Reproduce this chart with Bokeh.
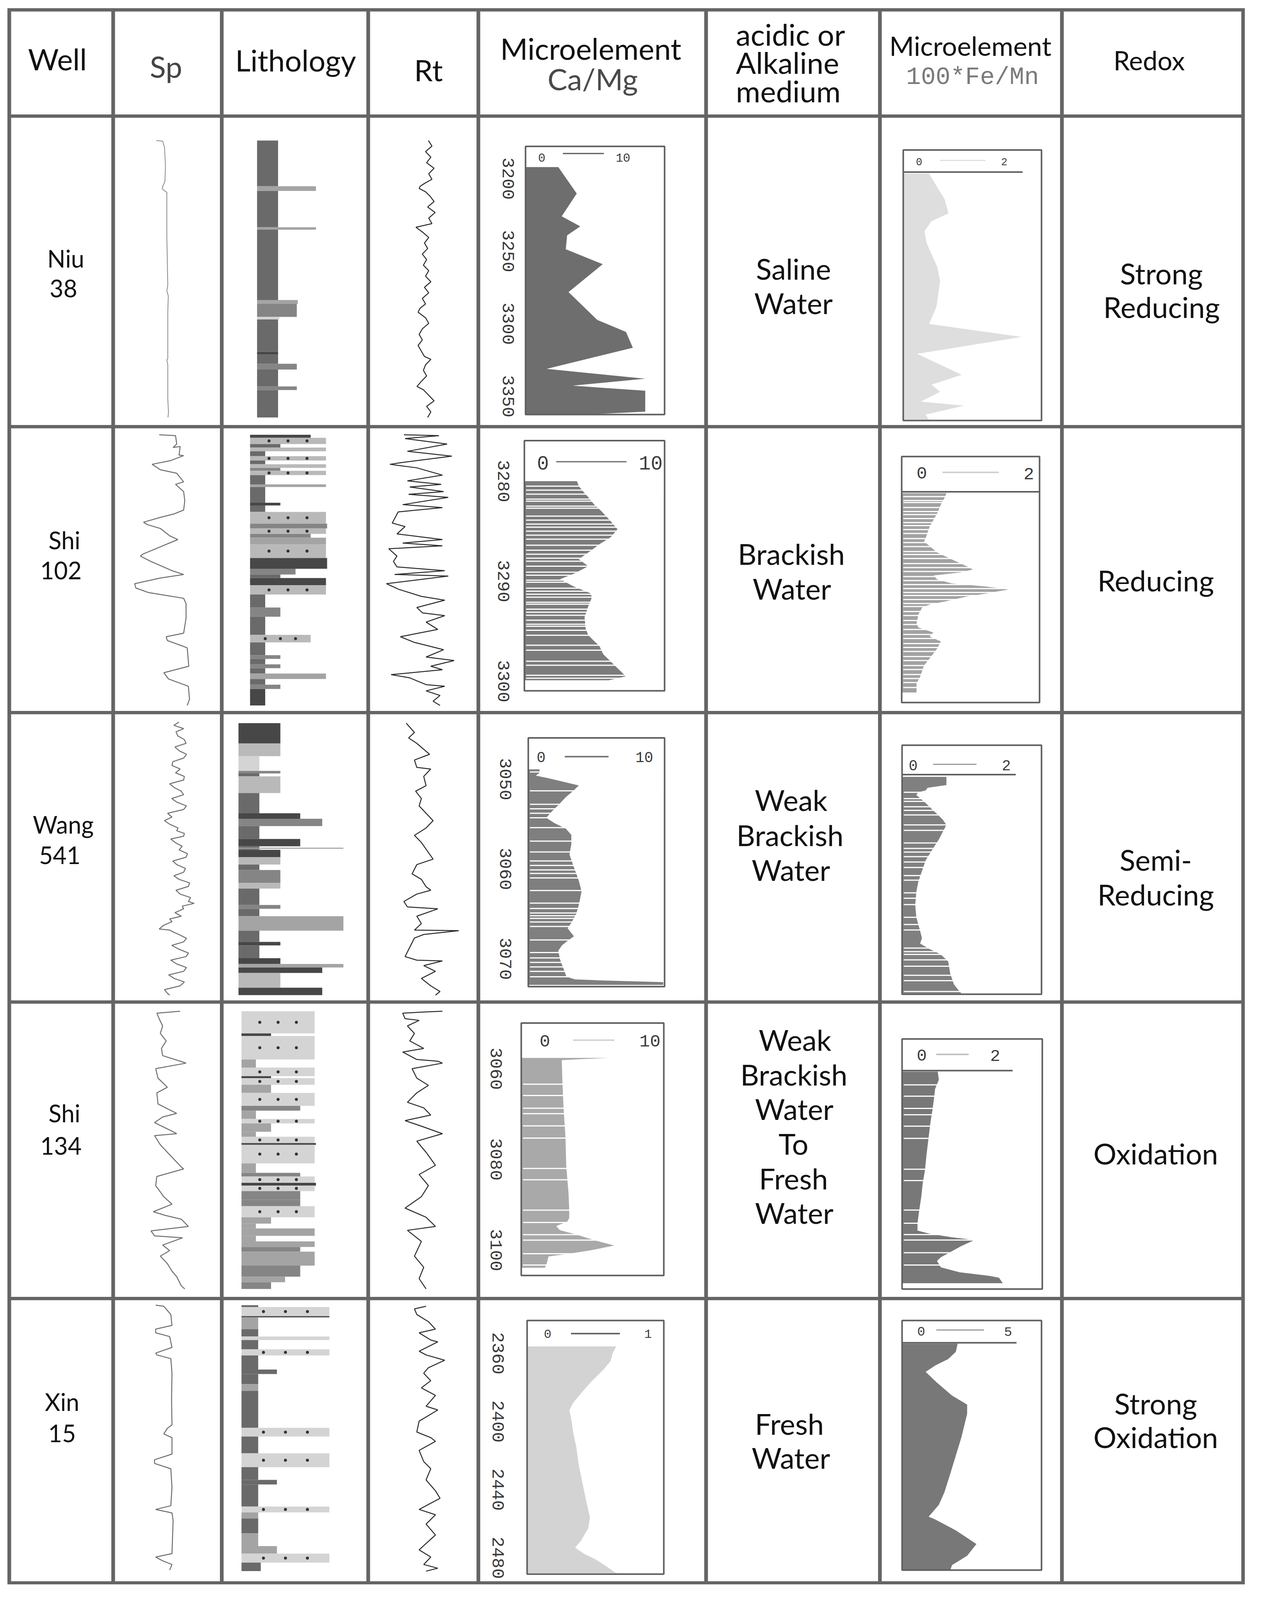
import math
from bokeh.plotting import figure
from bokeh.models import Range1d, Spacer, Row, Column
from bokeh.core.properties import value
from bokeh.embed import file_html
from bokeh.resources import INLINE

# ============================ DATA ============================
wells = ["Niu 38", "Shi 102", "Wang 541", "Shi 134", "Xin 15"]
well_line1 = ["Niu", "Shi", "Wang", "Shi", "Xin"]
well_line2 = ["38", "102", "541", "134", "15"]
medium_labels = [["Saline", "Water"], ["Brackish", "Water"], ["Weak", "Brackish", "Water"],
                 ["Weak", "Brackish", "Water", "To", "Fresh", "Water"], ["Fresh", "Water"]]
redox_labels = [["Strong", "Reducing"], ["Reducing"], ["Semi-", "Reducing"], ["Oxidation"],
                ["Strong", "Oxidation"]]

camg_ticks = [[3200, 3250, 3300, 3350], [3280, 3290, 3300], [3050, 3060, 3070],
              [3060, 3080, 3100], [2360, 2400, 2440, 2480]]
camg_scale_max = ["10", "10", "10", "10", "1"]
femn_scale_max = ["2", "2", "2", "2", "5"]

# --- Ca/Mg profiles (depth m, ratio) ---
camg1_d = [3192.1, 3210.3, 3226.0, 3232.9, 3239.1, 3248.7, 3259.0, 3278.2, 3297.4, 3305.7, 3316.6,
           3331.1, 3337.9, 3342.7, 3346.2, 3360.6, 3361.3, 3362.2]
camg1_v = [2.83, 4.42, 3.12, 4.72, 3.59, 3.47, 6.66, 3.71, 6.19, 8.67, 9.26, 1.82, 10.33, 4.06, 10.33,
           10.33, 8.51, 6.19]
camg2_d = [3280.0, 3280.5, 3281.2, 3281.6, 3282.3, 3283.0, 3283.8, 3284.8, 3285.6, 3286.3, 3287.0,
           3287.8, 3288.5, 3289.2, 3289.8, 3290.5, 3291.2, 3291.6, 3292.5, 3293.6, 3294.7, 3295.4,
           3296.5, 3297.3, 3298.4, 3299.5, 3299.9]
camg2_v = [4.50, 4.66, 5.15, 5.47, 5.95, 6.59, 7.23, 7.97, 7.39, 6.43, 5.63, 4.66, 5.47, 4.34, 3.06,
           4.18, 5.63, 5.79, 5.47, 5.15, 5.24, 5.47, 6.43, 6.75, 7.71, 8.68, 7.23]
camg2_gaps = [3280.5, 3280.9, 3281.3, 3281.8, 3282.0, 3282.5, 3282.7, 3283.5, 3283.9, 3284.3, 3284.6,
              3285.0, 3285.4, 3285.8, 3286.4, 3286.9, 3287.3, 3287.7, 3288.0, 3288.5, 3289.1, 3289.4,
              3289.9, 3290.1, 3290.7, 3291.0, 3291.3, 3291.6, 3292.1, 3292.3, 3292.8, 3293.1, 3293.4,
              3293.9, 3294.3, 3294.5, 3294.9, 3295.4, 3296.4, 3296.9, 3298.0, 3298.4, 3299.4, 3299.7]
camg3_d = [3048.9, 3049.3, 3049.6, 3049.9, 3050.7, 3051.3, 3052.0, 3052.9, 3053.5, 3054.3, 3054.9,
           3055.5, 3056.2, 3057.2, 3058.4, 3059.6, 3061.3, 3062.5, 3064.0, 3065.0, 3066.0, 3066.6,
           3067.5, 3068.0, 3068.5, 3069.1, 3070.1, 3071.2, 3072.0, 3072.3, 3072.4, 3072.5, 3072.6, 3072.9]
camg3_v = [0.99, 0.99, 0.66, 1.81, 4.45, 3.96, 3.30, 2.64, 2.14, 1.58, 2.31, 3.30, 3.79, 3.79, 3.63,
           3.96, 4.45, 4.69, 4.45, 4.22, 3.79, 3.46, 4.02, 3.46, 2.97, 2.64, 2.80, 3.13, 3.36, 4.12,
           6.27, 9.08, 11.88, 11.88]
camg3_gaps = [3049.2, 3051.3, 3052.8, 3053.3, 3053.8, 3054.3, 3055.4, 3056.9, 3058.1, 3059.1, 3059.6,
              3060.1, 3060.5, 3061.0, 3062.4, 3063.8, 3064.4, 3064.9, 3065.2, 3065.5, 3065.9, 3066.4,
              3067.9, 3069.3, 3069.9, 3070.4, 3070.9, 3071.4, 3072.0]
camg4_d = [3057.6, 3057.9, 3058.1, 3063.2, 3069.1, 3074.9, 3081.6, 3087.4, 3091.2, 3092.9, 3093.7,
           3094.7, 3095.6, 3096.6, 3097.9, 3099.0, 3100.0, 3100.8, 3101.4, 3102.9, 3103.9]
camg4_v = [7.36, 4.83, 3.41, 3.47, 3.57, 3.72, 3.79, 3.98, 4.04, 4.04, 3.88, 2.94, 3.25, 4.67, 6.25,
           7.83, 5.94, 4.04, 2.30, 2.15, 1.99]
camg4_gaps = [3063.4, 3065.9, 3068.7, 3069.9, 3072.6, 3075.3, 3082.0, 3084.5, 3091.2, 3093.9, 3096.6,
              3097.8, 3100.8, 3103.3]
camg5_d = [2355.9, 2360.2, 2364.5, 2369.8, 2376.2, 2383.7, 2389.1, 2393.3, 2398.7, 2406.2, 2414.7,
           2425.4, 2436.1, 2446.8, 2456.4, 2462.8, 2470.3, 2474.0, 2477.8, 2481.0, 2485.2, 2488.4, 2489.0]
camg5_v = [0.782, 0.749, 0.733, 0.667, 0.569, 0.470, 0.404, 0.371, 0.388, 0.404, 0.431, 0.453, 0.486,
           0.519, 0.552, 0.536, 0.470, 0.421, 0.503, 0.602, 0.700, 0.766, 0.799]

# --- 100*Fe/Mn profiles (depth m, ratio) ---
femn1_d = [3192.0, 3209.9, 3219.5, 3225.0, 3231.9, 3240.2, 3256.7, 3266.3, 3284.2, 3295.9, 3304.9,
           3316.6, 3331.1, 3337.9, 3342.8, 3349.6, 3352.4, 3358.6, 3362.0]
femn1_v = [0.56, 0.90, 0.98, 0.61, 0.46, 0.51, 0.74, 0.80, 0.72, 0.56, 2.57, 0.30, 1.27, 0.61, 0.80,
           0.38, 1.32, 0.48, 0.56]
femn2_d = [3280.06, 3280.5, 3281.2, 3282.1, 3283.4, 3284.5, 3284.9, 3285.2, 3286.0, 3286.7, 3287.4,
           3287.7, 3288.0, 3288.3, 3288.7, 3289.1, 3289.4, 3289.7, 3290.1, 3290.4, 3290.9, 3291.2,
           3291.5, 3292.2, 3293.1, 3293.5, 3294.0, 3294.4, 3294.9, 3295.6, 3296.6, 3297.3, 3298.4,
           3299.1, 3300.0]
femn2_v = [0.976, 0.935, 0.853, 0.772, 0.608, 0.527, 0.486, 0.567, 0.772, 1.098, 1.425, 1.548, 1.261,
           0.690, 0.772, 1.098, 1.833, 2.323, 1.833, 1.425, 0.935, 0.608, 0.445, 0.364, 0.323, 0.364,
           0.690, 0.608, 0.853, 0.772, 0.608, 0.486, 0.404, 0.323, 0.323]
femn2_gaps = [3280.4, 3280.8, 3281.0, 3281.5, 3281.9, 3282.2, 3282.6, 3283.0, 3283.3, 3283.7, 3284.1,
              3284.6, 3285.0, 3285.4, 3285.9, 3286.2, 3286.6, 3287.1, 3287.5, 3287.9, 3288.4, 3288.8,
              3289.2, 3289.6, 3290.0, 3290.3, 3290.7, 3291.1, 3291.4, 3291.9, 3292.3, 3292.8, 3293.2,
              3293.7, 3294.2, 3294.6, 3295.1, 3295.5, 3295.9, 3296.4, 3296.8, 3297.3, 3297.7, 3298.2,
              3298.6, 3299.0, 3299.5]
femn3_d = [3049.0, 3049.9, 3050.2, 3050.5, 3050.7, 3051.0, 3051.9, 3052.9, 3053.7, 3054.3, 3055.1,
           3055.9, 3057.2, 3058.2, 3059.4, 3060.6, 3061.7, 3063.1, 3064.5, 3066.0, 3066.8, 3067.4,
           3068.0, 3068.6, 3069.4, 3070.7, 3071.9, 3072.7, 3072.9]
femn3_v = [0.954, 0.954, 0.550, 0.509, 0.348, 0.307, 0.509, 0.711, 0.873, 0.954, 0.873, 0.792, 0.630,
           0.509, 0.428, 0.348, 0.307, 0.283, 0.307, 0.388, 0.428, 0.388, 0.590, 0.832, 0.994, 1.035,
           1.115, 1.237, 1.277]
femn3_gaps = [3050.7, 3051.4, 3051.7, 3052.3, 3052.7, 3053.2, 3054.3, 3054.9, 3056.3, 3056.9, 3057.3,
              3057.8, 3058.4, 3059.0, 3059.9, 3060.4, 3061.8, 3062.4, 3063.1, 3064.5, 3065.3, 3065.9,
              3067.9, 3068.3, 3068.6, 3069.2, 3069.9, 3070.9, 3071.5, 3072.7]
femn4_d = [3057.7, 3059.5, 3061.5, 3063.6, 3066.1, 3068.6, 3071.9, 3076.1, 3079.4, 3082.3, 3085.3,
           3088.6, 3091.1, 3092.7, 3093.4, 3094.2, 3094.8, 3096.1, 3097.7, 3098.6, 3099.4, 3100.8,
           3101.9, 3102.7, 3103.1, 3104.3]
femn4_v = [0.763, 0.787, 0.707, 0.683, 0.651, 0.611, 0.571, 0.522, 0.490, 0.442, 0.410, 0.362, 0.330,
           0.330, 0.587, 1.069, 1.551, 1.269, 0.988, 0.828, 0.747, 0.828, 1.229, 1.873, 2.074, 2.154]
femn4_gaps = [3060.6, 3063.1, 3065.8, 3067.2, 3069.7, 3072.4, 3079.2, 3081.7, 3088.2, 3091.1, 3093.6,
              3094.8, 3097.6, 3100.3]
femn5_d = [2356.3, 2361.1, 2365.3, 2369.1, 2372.8, 2379.2, 2386.7, 2392.0, 2397.4, 2411.2, 2421.9,
           2432.6, 2443.3, 2450.7, 2457.7, 2459.3, 2465.7, 2473.7, 2480.6, 2486.0, 2489.0]
femn5_v = [2.99, 2.89, 2.48, 1.78, 1.27, 1.88, 2.69, 3.50, 3.50, 3.19, 2.89, 2.59, 2.28, 1.98, 1.43,
           1.78, 2.89, 4.00, 3.50, 2.69, 2.59]

# --- SP logs (relative depth 0-100 along logged interval, reading 0-100 of track) ---
sp1_d = [0, 0.2, 2.5, 9.0, 14.7, 17.1, 17.8, 18.7, 34.2, 52.2, 54.3, 56.1, 62.2, 78.8, 79.1, 80.9,
         93.2, 98.2, 100]
sp1_v = [39.3, 45.3, 47.1, 48.0, 47.5, 44.9, 45.8, 49.3, 49.3, 50.2, 49.3, 50.7, 50.2, 50.2, 49.3,
         50.2, 50.2, 50.9, 50.4]
sp2_d = [0, 0.3, 3.4, 4.7, 4.3, 7.5, 7.7, 9.5, 10.9, 12.9, 14.2, 17.4, 18.3, 21.0, 24.4, 27.8, 29.2,
         30.5, 32.3, 33.2, 34.6, 37.3, 38.7, 41.4, 44.1, 44.8, 46.8, 50.2, 51.6, 52.9, 55.0, 56.6, 58.3,
         60.4, 62.4, 67.8, 73.3, 74.6, 76.0, 78.7, 85.5, 87.9, 90.2, 92.9, 97.7, 100]
sp2_v = [42.0, 57.6, 58.7, 55.3, 62.0, 60.9, 65.3, 53.1, 35.3, 43.1, 58.7, 65.3, 57.6, 65.3, 66.4,
         65.3, 56.4, 43.1, 27.1, 30.9, 43.1, 52.0, 59.8, 43.1, 26.4, 24.2, 34.2, 54.2, 65.3, 43.1,
         18.7, 19.8, 32.0, 65.3, 67.6, 67.6, 65.3, 48.7, 49.8, 68.7, 70.2, 46.4, 50.9, 69.8, 70.9, 68.7]
sp3_d = [0, 1.2, 2.4, 3.6, 5.1, 6.4, 7.8, 9.1, 10.5, 11.8, 13.2, 14.5, 15.9, 17.2, 18.6, 19.9, 21.2,
         22.6, 24.0, 25.3, 26.6, 28.0, 29.3, 30.7, 32.0, 33.4, 34.8, 36.1, 37.4, 38.8, 39.8, 40.8, 41.8,
         42.8, 44.2, 45.5, 46.8, 48.2, 49.5, 50.9, 52.2, 53.6, 55.0, 56.3, 57.6, 58.9, 60.2, 61.6, 63.0,
         64.3, 65.7, 66.4, 67.4, 68.4, 69.8, 71.1, 72.1, 73.1, 74.5, 75.8, 76.2, 77.0, 77.8, 79.2, 80.5,
         81.8, 83.2, 84.6, 85.9, 87.2, 88.6, 89.9, 91.3, 92.6, 93.9, 95.2, 96.6, 98.0, 99.3, 100]
sp3_v = [60.9, 56, 65.3, 58, 59.8, 66, 67.6, 57, 60.9, 68, 65.3, 55, 54.2, 62, 57.6, 66, 65.3, 52,
         56.4, 63, 65.3, 54, 58.7, 68, 65.3, 50, 54.2, 47, 52.0, 60, 58.7, 66, 65.3, 53, 57.6, 64, 60.9,
         69, 67.6, 55, 58.7, 67, 65.3, 56, 60.9, 71, 69.8, 58, 62.0, 72, 69.8, 75.3, 64, 65.3, 57, 63.1,
         52, 54.2, 46, 42.0, 52.0, 56, 60.9, 68, 65.3, 54, 60.9, 70, 67.6, 53, 58.7, 68, 65.3, 51, 56.4,
         66, 62.0, 47, 49.8, 52.0]
sp4_d = [0, 0.7, 2.7, 5.3, 8.0, 10.7, 13.4, 16.0, 18.4, 18.7, 20.7, 24.1, 27.4, 29.4, 33.4, 36.8,
         38.1, 40.1, 42.8, 44.1, 44.8, 48.1, 50.8, 56.1, 56.8, 59.5, 62.8, 66.8, 69.5, 72.2, 73.5, 74.9,
         77.5, 79.1, 80.9, 81.6, 84.2, 86.2, 88.2, 90.9, 93.6, 95.6, 98.9, 100]
sp4_v = [62.0, 39.8, 42.0, 45.3, 43.1, 48.7, 44.2, 45.3, 65.3, 67.6, 38.7, 40.9, 49.8, 39.8, 40.9,
         58.7, 45.3, 37.6, 52.0, 58.7, 37.6, 43.1, 49.8, 63.1, 65.3, 39.8, 38.7, 46.4, 54.2, 36.4, 47.6,
         63.1, 69.8, 34.2, 37.6, 64.2, 45.3, 52.0, 43.1, 49.8, 54.2, 58.7, 63.1, 66.4]
sp5_d = [0, 0.4, 3.5, 7.6, 9.0, 10.4, 11.8, 15.9, 18.0, 18.7, 20.1, 25.6, 35.3, 45.0, 46.3, 48.4,
         49.8, 56.0, 58.1, 59.5, 61.5, 68.5, 75.4, 76.8, 78.1, 80.9, 93.4, 94.7, 96.1, 97.5, 99.6]
sp5_v = [38.7, 46.4, 53.1, 54.2, 38.7, 38.7, 52.0, 54.2, 38.7, 39.8, 53.1, 54.2, 53.8, 54.2, 49.8,
         46.4, 54.2, 54.2, 37.6, 37.6, 53.1, 54.2, 53.1, 38.7, 54.2, 55.3, 54.2, 38.7, 45.3, 54.2, 52.0]

# --- Rt logs (relative depth 0-100, reading 0-100 of track) ---
rt1_d = [0, 2, 4, 6, 8, 10, 12, 14, 15.5, 16.5, 17.3, 18.5, 20, 22, 24, 26, 28, 30, 31.3, 33, 35, 37,
         39, 41, 43, 45, 47, 49, 51, 53, 55, 57, 59, 60.5, 62, 64, 66, 68, 70, 72, 74, 76, 78, 79, 81,
         83, 85, 87, 88.8, 90, 92, 94, 96, 98, 100]
rt1_v = [54.7, 58, 52, 57, 53, 60, 55, 58, 51, 47, 46, 52, 56, 60, 54, 61, 55, 58, 43, 49, 55, 51,
         54, 49, 53, 50, 55, 52, 57, 51, 55, 49, 52, 47, 45, 52, 55, 49, 46, 49, 45, 48, 51, 57, 52,
         50, 53, 48, 44, 50, 55, 60, 53, 57, 54]
rt2_d = [0, 0.3, 1.4, 3.4, 6.1, 7.9, 10.2, 10.9, 12.2, 14.9, 17.0, 18.3, 19.3, 21.0, 22.0, 23.1, 25.8,
         26.9, 28.5, 32.6, 33.9, 36.6, 38.7, 40.0, 41.0, 42.1, 44.8, 46.8, 48.8, 50.2, 51.6, 52.2, 55.0,
         57.0, 59.7, 61.1, 63.8, 65.8, 66.8, 69.2, 71.9, 74.6, 76.7, 79.4, 82.1, 83.4, 85.5, 86.8, 88.6,
         89.8, 92.3, 92.9, 94.6, 96.3, 98.4, 100]
rt2_v = [31.7, 64.6, 32.8, 72.2, 35.0, 76.6, 30.6, 18.6, 43.8, 67.8, 35.0, 66.7, 37.2, 68.9, 36.1,
         73.3, 30.6, 67.8, 26.3, 20.8, 32.8, 25.2, 67.8, 30.6, 67.8, 17.5, 25.2, 21.9, 25.2, 70.0, 23.0,
         73.3, 15.3, 26.3, 48.1, 70.0, 43.8, 49.2, 70.0, 52.5, 63.5, 28.4, 41.6, 68.9, 52.5, 78.8, 56.9,
         67.8, 19.7, 37.2, 52.5, 70.0, 52.5, 65.6, 59.1, 65.6]
rt3_d = [0.4, 3.8, 5.8, 7.8, 11.8, 13.9, 16.6, 17.2, 19.9, 23.3, 25.3, 28.0, 30.7, 36.1, 38.8, 41.5,
         44.1, 50.2, 52.2, 55.6, 57.6, 60.3, 61.6, 63.0, 65.7, 67.7, 68.4, 71.1, 73.8, 76.2, 76.4, 77.8,
         79.1, 85.9, 87.2, 87.5, 89.2, 91.3, 93.9, 96.6, 98.7, 100]
rt3_v = [33.9, 41.6, 36.1, 43.8, 55.8, 41.6, 43.8, 56.9, 50.3, 52.5, 42.7, 48.1, 46.0, 59.1, 52.5,
         41.6, 48.1, 59.1, 43.8, 39.4, 48.1, 52.5, 56.9, 43.8, 31.7, 35.0, 63.5, 43.8, 48.1, 41.6, 83.2,
         50.3, 41.6, 32.8, 43.8, 67.8, 50.3, 61.3, 48.1, 56.9, 65.6, 61.3]
rt4_d = [0, 0.3, 0.7, 2.7, 3.3, 5.3, 8.0, 10.7, 13.4, 14.7, 17.4, 18.0, 18.7, 20.7, 24.1, 26.7, 29.4,
         32.8, 34.8, 37.4, 39.4, 41.4, 44.1, 46.8, 50.8, 55.5, 58.8, 62.8, 66.8, 70.9, 74.2, 77.5, 78.9,
         82.9, 88.2, 92.2, 96.3, 100]
rt4_v = [67.8, 50.3, 30.6, 32.8, 46.0, 35.0, 41.6, 37.2, 50.3, 30.6, 43.8, 63.5, 67.8, 39.4, 43.8,
         54.7, 43.8, 35.0, 50.3, 56.9, 32.8, 48.1, 67.8, 43.8, 52.5, 61.3, 46.0, 54.7, 48.1, 32.8, 52.5,
         61.3, 35.0, 48.1, 41.6, 50.3, 46.0, 52.5]
rt5_d = [0.4, 1.4, 3.5, 6.2, 9.0, 10.4, 13.1, 13.8, 17.3, 18.7, 20.7, 23.5, 25.6, 28.4, 31.1, 33.9,
         38.0, 39.4, 43.6, 47.7, 49.8, 51.2, 54.6, 58.8, 61.5, 65.7, 69.8, 72.6, 76.8, 78.8, 82.3, 86.4,
         92.0, 94.7, 97.5, 98.9, 100]
rt5_v = [52.5, 41.6, 43.8, 54.7, 61.3, 46.0, 56.9, 63.5, 46.0, 52.5, 70.0, 54.7, 50.3, 56.9, 48.1,
         61.3, 52.5, 63.5, 46.0, 43.8, 56.9, 61.3, 46.0, 50.3, 56.9, 52.5, 61.3, 65.6, 46.0, 61.3, 52.5,
         61.3, 46.0, 56.9, 50.3, 63.5, 52.5]

# --- Lithology beds (relative depth top/base, grain-size index 0-100, lithology class) ---
lith1_top = [0, 16.5, 18.2, 31.3, 32.2, 57.6, 59.0, 63.7, 64.6, 76.3, 77.3, 80.6, 82.7, 88.8, 90.1]
lith1_bot = [16.5, 18.2, 31.3, 32.2, 57.6, 59.0, 63.7, 64.6, 76.3, 77.3, 80.6, 82.7, 88.8, 90.1, 100]
lith1_grain = [38.1, 64.6, 38.1, 64.6, 38.1, 51.9, 51.2, 39.0, 38.1, 38.1, 38.1, 51.2, 38.1, 51.2, 38.1]
lith1_kind = ["mud", "silt", "mud", "silt", "mud", "silt", "grey", "pale", "mud", "dark", "mud", "grey",
              "mud", "grey", "mud"]
lith2_top = [0.0, 1.1, 3.4, 4.7, 6.1, 7.9, 9.5, 10.9, 12.2, 13.3, 14.9, 18.3, 19.3, 25.1, 26.1, 28.5,
             32.8, 34.6, 36.6, 38.0, 40.4, 45.5, 49.5, 51.6, 52.9, 55.6, 59.0, 63.8, 67.2, 73.9, 76.7,
             81.4, 82.8, 84.8, 86.2, 88.2, 90.2, 92.3, 93.9]
lith2_bot = [1.1, 3.4, 4.7, 6.1, 7.9, 9.5, 10.9, 12.2, 13.3, 14.9, 18.3, 19.3, 25.1, 26.1, 28.5, 32.8,
             34.6, 36.6, 38.0, 40.4, 45.5, 49.5, 51.6, 52.9, 55.6, 59.0, 63.8, 67.2, 73.9, 76.7, 81.4,
             82.8, 84.8, 86.2, 88.2, 90.2, 92.3, 93.9, 100.0]
lith2_grain = [60.9, 71.6, 39.7, 71.6, 29.1, 71.6, 29.1, 71.6, 39.7, 71.6, 29.1, 71.6, 29.1, 39.7, 29.1,
               71.6, 72.4, 71.6, 60.9, 71.6, 71.6, 72.4, 50.3, 39.7, 71.6, 71.6, 29.1, 39.7, 29.1, 60.9,
               29.1, 39.7, 29.1, 39.7, 29.1, 71.6, 29.1, 39.7, 29.1]
lith2_kind = ["dark", "sand", "mud", "sand", "mud", "sand", "mud", "sand", "grey", "sand", "mud", "silt",
              "mud", "dark", "mud", "sand", "grey", "sand", "grey", "silt", "sand", "dark", "grey", "mud",
              "dark", "sand", "mud", "grey", "mud", "sand", "mud", "grey", "mud", "grey", "mud", "silt",
              "mud", "grey", "dark"]
lith3_top = [0.4, 7.8, 12.5, 17.9, 18.8, 19.9, 26.0, 33.4, 35.4, 38.1, 42.8, 45.5, 46.0, 46.8, 49.5,
             52.2, 54.2, 58.9, 61.0, 67.0, 68.4, 71.1, 76.4, 80.5, 81.8, 86.5, 88.6, 89.9, 91.9, 97.3]
lith3_bot = [7.8, 12.5, 17.9, 18.8, 19.9, 26.0, 33.4, 35.4, 38.1, 42.8, 45.5, 46.8, 46.4, 49.5, 52.2,
             54.2, 58.9, 61.0, 67.0, 68.4, 71.1, 76.4, 80.5, 81.8, 86.5, 88.6, 89.9, 91.9, 97.3, 100.0]
lith3_grain = [39.7, 39.7, 25.0, 39.7, 25.0, 39.7, 25.0, 53.6, 69.0, 25.0, 53.6, 25.0, 83.8, 39.7, 39.7,
               25.0, 39.7, 39.7, 25.0, 39.7, 25.0, 83.8, 25.0, 39.7, 25.0, 39.7, 83.8, 69.0, 39.7, 69.0]
lith3_kind = ["dark", "sand", "pale", "grey", "mud", "sand", "mud", "dark", "grey", "mud", "dark", "mud",
              "silt", "dark", "sand", "mud", "grey", "sand", "mud", "grey", "mud", "silt", "mud", "dark",
              "mud", "dark", "silt", "dark", "sand", "dark"]
lith4_top = [0.0, 8.0, 8.9, 17.4, 20.3, 23.4, 24.1, 26.5, 29.4, 34.1, 35.8, 38.8, 40.4, 43.4, 45.2,
             47.5, 48.1, 54.8, 58.2, 59.5, 61.8, 62.8, 64.8, 67.9, 70.2, 74.2, 76.5, 78.2, 80.9, 82.9,
             84.9, 86.6, 91.6, 95.6, 97.6]
lith4_bot = [8.0, 8.9, 17.4, 20.3, 23.4, 24.1, 26.5, 29.4, 34.1, 35.8, 38.8, 40.4, 43.4, 45.2, 47.5,
             48.1, 54.8, 58.2, 59.5, 61.8, 62.8, 64.8, 67.9, 70.2, 74.2, 76.5, 78.2, 80.9, 82.9, 84.9,
             86.6, 91.6, 95.6, 97.6, 100.0]
lith4_grain = [63.7, 33.2, 63.7, 22.6, 63.7, 33.2, 63.7, 33.2, 63.7, 53.6, 22.6, 63.7, 33.2, 22.6, 63.7,
               64.6, 63.7, 22.6, 53.6, 63.7, 64.6, 63.7, 53.6, 53.6, 63.7, 33.2, 22.6, 63.7, 22.6, 63.7,
               53.6, 63.7, 53.6, 43.0, 33.2]
lith4_kind = ["pale", "dark", "pale", "silt", "pale", "dark", "pale", "silt", "pale", "grey", "silt",
              "pale", "silt", "silt", "pale", "dark", "pale", "silt", "grey", "pale", "dark", "pale",
              "grey", "grey", "pale", "silt", "silt", "silt", "silt", "silt", "grey", "silt", "grey",
              "silt", "grey"]
lith5_top = [0.0, 0.7, 4.1, 4.6, 9.0, 11.8, 13.1, 16.6, 18.9, 24.2, 25.9, 29.7, 32.2, 46.1, 49.4, 55.7,
             60.9, 65.7, 67.4, 75.7, 77.9, 80.2, 85.8, 90.6, 93.4, 96.8]
lith5_bot = [0.7, 4.1, 4.6, 9.0, 11.8, 13.1, 16.6, 18.9, 24.2, 25.9, 29.7, 32.2, 46.1, 49.4, 55.7, 60.9,
             65.7, 67.4, 75.7, 77.9, 80.2, 85.8, 90.6, 93.4, 96.8, 100.0]
lith5_grain = [24.2, 74.0, 74.0, 24.2, 24.2, 74.0, 24.2, 74.0, 24.2, 37.3, 24.2, 24.2, 24.2, 74.0, 24.2,
               74.0, 24.2, 37.3, 24.2, 74.0, 24.2, 24.2, 24.2, 37.3, 74.0, 26.0]
lith5_kind = ["mud", "pale", "dark", "silt", "mud", "pale", "mud", "pale", "mud", "mud", "mud", "silt",
              "mud", "pale", "mud", "pale", "mud", "mud", "mud", "pale", "silt", "mud", "silt", "silt",
              "pale", "mud"]

# ============================ LAYOUT / STYLE ============================
# cell geometry in reference pixels; the whole table is shrunk vertically by SY so it fits the window
COL_W = [257, 269, 366, 273, 574, 436, 457, 455]
ROW_H = [310, 925, 851, 861, 882, 846]
SY = 0.851          # vertical scale of the page
FS = 0.9            # font scale
GAP_X = 9
GAP_Y = 8
GRID_COLOR = "#656565"
BOX_COLOR = "#5e5e5e"
TEXT_FONT = "Lato"
MONO_FONT = "Liberation Mono"

LITH_COLORS = {"mud": "#6a6a6a", "grey": "#858585", "silt": "#a4a4a4", "sand": "#b9b9b9",
               "pale": "#d4d4d4", "dark": "#474747"}
TRACK_SPAN = [(68.5, 901.7), (19.5, 834.0), (23.5, 844.5), (22.5, 857.5), (15.0, 815.0)]
LITH_LEFT = [23.4, 18.5, 10.4, 12.5, 12.5]

CAMG_FILL = ["#6e6e6e", "#7c7c7c", "#7f7f7f", "#a9a9a9", "#d3d3d3"]
FEMN_FILL = ["#dedede", "#a2a2a2", "#808080", "#787878", "#787878"]

CAMG_LAYOUT = [
    dict(box=(116, 86, 472, 893), depth=(3177.8, 3362.6), xmax=12, lab_x=71.5,
         zero=(157.5, 119.5), top=(365.5, 119.5), bar=(211.5, 316.5, 107.5), fs=34, bc="#555555", bw=3),
    dict(box=(113, 37, 472, 790), depth=(3275.95, 3300.96), xmax=12, lab_x=60.0,
         zero=(160.5, 104.5), top=(436.5, 104.5), bar=(194.5, 374.5, 100.5), fs=57, bc="#666666", bw=3),
    dict(box=(123, 71, 472, 819), depth=(3045.4, 3073.1), xmax=12, lab_x=64.7,
         zero=(156.0, 128.5), top=(420.0, 128.5), bar=(216.5, 328.5, 127.5), fs=42, bc="#777777", bw=4),
    dict(box=(105, 58, 470, 817), depth=(3049.9, 3105.6), xmax=12, lab_x=40.7,
         zero=(165.5, 111.5), top=(434.5, 111.5), bar=(237.5, 343.5, 109.5), fs=50, bc="#c8c8c8", bw=3),
    dict(box=(120, 61, 470, 824), depth=(2340.7, 2489.6), xmax=1.2, lab_x=45.5,
         zero=(172.5, 101.5), top=(429.5, 101.5), bar=(232.5, 357.5, 100.5), fs=35, bc="#666666", bw=4),
]
FEMN_LAYOUT = [
    dict(box=(55, 97, 409, 911), depth=(3175.7, 3362.7), xmax=3, sep=(163.5, 360.5),
         zero=(95.5, 132.5), top=(313.5, 132.5), bar=(148.5, 265.5, 128.5), fs=30, bc="#e0e0e0", bw=3),
    dict(box=(51, 85, 404, 825), depth=(3276.4, 3301.0), xmax=3, sep=(191.0, 404.0),
         zero=(102.5, 134.5), top=(376.5, 136.0), bar=(155.5, 299.5, 132.5), fs=50, bc="#cfcfcf", bw=4),
    dict(box=(52, 93, 409, 842), depth=(3045.5, 3073.0), xmax=3, sep=(181.5, 343.0),
         zero=(80.5, 153.5), top=(319.0, 153.5), bar=(131.5, 242.5, 150.5), fs=42, bc="#999999", bw=3),
    dict(box=(52, 106, 411, 858), depth=(3050.5, 3105.6), xmax=3, sep=(201.0, 335.0),
         zero=(102.5, 154.5), top=(290.5, 155.5), bar=(139.5, 222.5, 152.5), fs=48, bc="#c0c0c0", bw=4),
    dict(box=(52, 61, 409, 812), depth=(2342.7, 2489.0), xmax=7.5, sep=(128.0, 345.0),
         zero=(101.0, 93.5), top=(323.5, 94.5), bar=(139.5, 261.5, 89.5), fs=38, bc="#999999", bw=3),
]

# visual centres (cell-local reference px) of the text lines
WELL_POS = [[(140, 423), (134, 514)], [(136.5, 336), (127.5, 428)], [(133.5, 331), (124.5, 424)],
            [(136.5, 329), (127.5, 427)], [(130.5, 306), (130.5, 401)]]
MED_POS = [[(219, 453.5), (219, 557.5)], [(213.5, 377.5), (215, 482)],
           [(213, 257.5), (210, 363.5), (212.5, 467)],
           [(223, 107.5), (220, 212.5), (221, 315.5), (219, 420.5), (219, 525.5), (221, 628.5)],
           [(208.5, 371.5), (212.5, 474)]]
REDOX_POS = [[(250, 467.5), (250.5, 568.5)], [(235.5, 457)], [(235.5, 437), (235.5, 541)],
             [(235.5, 450)], [(235.5, 310), (235.5, 411)]]


def fpx(size):
    return "%dpx" % round(size * FS)


def base_fig(w, hpx, xr, yr):
    p = figure(width=w, height=hpx, x_range=xr, y_range=yr, output_backend="svg",
               toolbar_location=None, x_axis_location=None, y_axis_location=None,
               min_border_left=0, min_border_right=0, min_border_top=0, min_border_bottom=0)
    p.grid.visible = False
    p.outline_line_color = None
    p.background_fill_color = "white"
    p.border_fill_color = "white"
    return p


def text_fig(w, h):
    return base_fig(w, round(h * SY), Range1d(0, w), Range1d(h, 0))


def add_texts(p, pos, texts, size, font=TEXT_FONT, color="#111111", align="center"):
    p.text(x=[a for a, b in pos], y=[b for a, b in pos], text=texts, text_font=value(font),
           text_font_size=fpx(size), text_color=color, text_align=align, text_baseline="middle")


def track_fig(w, h, span):
    top, bot = span
    k = 100.0 / (bot - top)
    return base_fig(w, round(h * SY), Range1d(0, 100), Range1d(100 + (h - bot) * k, -top * k))


def panel_fig(w, h, lay):
    l, t, r, b = lay["box"]
    dtop, dbot = lay["depth"]
    xmax = lay["xmax"]

    def to_x(px):
        return (px - l) / (r - l) * xmax

    def to_d(py):
        return dtop + (py - t) / (b - t) * (dbot - dtop)
    p = base_fig(w, round(h * SY), Range1d(to_x(0), to_x(w)), Range1d(to_d(h), to_d(0)))
    return p, to_x, to_d


def add_box(p, lay):
    dtop, dbot = lay["depth"]
    p.quad(left=[0], right=[lay["xmax"]], top=[dtop], bottom=[dbot], fill_color=None,
           line_color=BOX_COLOR, line_width=4)


def add_scale(p, to_x, to_d, lay, max_label):
    bx0, bx1, by = lay["bar"]
    p.segment(x0=[to_x(bx0)], y0=[to_d(by)], x1=[to_x(bx1)], y1=[to_d(by)],
              line_color=lay["bc"], line_width=lay["bw"])
    p.text(x=[to_x(lay["zero"][0]), to_x(lay["top"][0])], y=[to_d(lay["zero"][1]), to_d(lay["top"][1])],
           text=["0", max_label], text_font=value(MONO_FONT), text_font_size=fpx(lay["fs"]),
           text_color="#3c3c3c", text_align="center", text_baseline="middle")


# ============================ BUILD ============================
rows = []

H0 = ROW_H[0]
hdr = []
p = text_fig(COL_W[0], H0); add_texts(p, [(118.5, 142.5)], ["Well"], 84); hdr.append(p)
p = text_fig(COL_W[1], H0); add_texts(p, [(130.5, 164.5)], ["Sp"], 84, color="#444444"); hdr.append(p)
p = text_fig(COL_W[2], H0); add_texts(p, [(184.5, 145.5)], ["Lithology"], 84); hdr.append(p)
p = text_fig(COL_W[3], H0); add_texts(p, [(149.5, 174.5)], ["Rt"], 84); hdr.append(p)
p = text_fig(COL_W[4], H0)
add_texts(p, [(283, 110.5)], ["Microelement"], 84)
add_texts(p, [(288, 202.5)], ["Ca/Mg"], 84, color="#4a4a4a")
hdr.append(p)
p = text_fig(COL_W[5], H0)
add_texts(p, [(71.5, 68), (71.5, 153), (71.5, 238)], ["acidic or", "Alkaline", "medium"], 84,
          align="left")
hdr.append(p)
p = text_fig(COL_W[6], H0)
add_texts(p, [(227, 102.5)], ["Microelement"], 76)
add_texts(p, [(232.5, 198)], ["100*Fe/Mn"], 70, font=MONO_FONT, color="#7a7a7a")
hdr.append(p)
p = text_fig(COL_W[7], H0); add_texts(p, [(218.5, 146.5)], ["Redox"], 74); hdr.append(p)
rows.append(hdr)

sp = [(sp1_d, sp1_v), (sp2_d, sp2_v), (sp3_d, sp3_v), (sp4_d, sp4_v), (sp5_d, sp5_v)]
rt = [(rt1_d, rt1_v), (rt2_d, rt2_v), (rt3_d, rt3_v), (rt4_d, rt4_v), (rt5_d, rt5_v)]
lith = [(lith1_top, lith1_bot, lith1_grain, lith1_kind), (lith2_top, lith2_bot, lith2_grain, lith2_kind),
        (lith3_top, lith3_bot, lith3_grain, lith3_kind), (lith4_top, lith4_bot, lith4_grain, lith4_kind),
        (lith5_top, lith5_bot, lith5_grain, lith5_kind)]
camg = [(camg1_d, camg1_v, []), (camg2_d, camg2_v, camg2_gaps), (camg3_d, camg3_v, camg3_gaps),
        (camg4_d, camg4_v, camg4_gaps), (camg5_d, camg5_v, [])]
femn = [(femn1_d, femn1_v, []), (femn2_d, femn2_v, femn2_gaps), (femn3_d, femn3_v, femn3_gaps),
        (femn4_d, femn4_v, femn4_gaps), (femn5_d, femn5_v, [])]

for i in range(5):
    H = ROW_H[i + 1]
    cells = []
    # well name
    p = text_fig(COL_W[0], H)
    add_texts(p, WELL_POS[i], [well_line1[i], well_line2[i]], 68)
    cells.append(p)
    # SP
    p = track_fig(COL_W[1], H, TRACK_SPAN[i])
    d, v = sp[i]
    p.line(x=v, y=d, line_color="#6e6e6e" if i else "#8a8a8a", line_width=2.5 if i else 2)
    cells.append(p)
    # lithology
    p = track_fig(COL_W[2], H, TRACK_SPAN[i])
    t_, b_, g_, k_ = lith[i]
    p.quad(left=LITH_LEFT[i], right=g_, top=t_, bottom=b_,
           fill_color=[LITH_COLORS[k] for k in k_], line_color=None)
    # sandstone symbol dots inside the coarse beds
    dx, dy = [], []
    for tt, bb, gg, kk in zip(t_, b_, g_, k_):
        if kk in ("sand", "pale") and bb - tt >= 1.5 and gg > 50:
            for f in (0.25, 0.5, 0.75):
                dx.append(LITH_LEFT[i] + (gg - LITH_LEFT[i]) * f)
                dy.append((tt + bb) / 2)
    if dx:
        p.scatter(x=dx, y=dy, size=7, color="#333333")
    cells.append(p)
    # Rt
    p = track_fig(COL_W[3], H, TRACK_SPAN[i])
    d, v = rt[i]
    p.line(x=v, y=d, line_color="#2b2b2b", line_width=2.5)
    cells.append(p)
    # Ca/Mg
    lay = CAMG_LAYOUT[i]
    p, to_x, to_d = panel_fig(COL_W[4], H, lay)
    d, v, gaps = camg[i]
    p.harea(x1=0, x2=v, y=d, fill_color=CAMG_FILL[i])
    if gaps:
        p.segment(x0=lay["xmax"] * 0.012, y0=gaps, x1=lay["xmax"] * 0.985, y1=gaps,
                  line_color="white", line_width=3)
    add_box(p, lay)
    add_scale(p, to_x, to_d, lay, camg_scale_max[i])
    ticks = camg_ticks[i]
    p.text(x=[to_x(lay["lab_x"])] * len(ticks), y=ticks, text=[str(t) for t in ticks],
           angle=-math.pi / 2, text_font=value(MONO_FONT), text_font_size=fpx(50),
           text_color="#3a3a3a", text_align="center", text_baseline="middle")
    cells.append(p)
    # medium
    p = text_fig(COL_W[5], H)
    add_texts(p, MED_POS[i], medium_labels[i], 82)
    cells.append(p)
    # Fe/Mn
    lay = FEMN_LAYOUT[i]
    p, to_x, to_d = panel_fig(COL_W[6], H, lay)
    d, v, gaps = femn[i]
    p.harea(x1=0, x2=v, y=d, fill_color=FEMN_FILL[i])
    if gaps:
        p.segment(x0=lay["xmax"] * 0.012, y0=gaps, x1=lay["xmax"] * 0.985, y1=gaps,
                  line_color="white", line_width=3)
    add_box(p, lay)
    sy, sx1 = lay["sep"]
    p.segment(x0=[0], y0=[to_d(sy)], x1=[to_x(sx1)], y1=[to_d(sy)], line_color=BOX_COLOR, line_width=4)
    add_scale(p, to_x, to_d, lay, femn_scale_max[i])
    cells.append(p)
    # redox
    p = text_fig(COL_W[7], H)
    add_texts(p, REDOX_POS[i], redox_labels[i], 82)
    cells.append(p)
    rows.append(cells)

row_models = []
for r, cells in enumerate(rows):
    hp = round(ROW_H[r] * SY)
    kids = [Spacer(width=0, height=hp)] + cells + [Spacer(width=0, height=hp)]
    row_models.append(Row(children=kids, spacing=GAP_X))

total_w = sum(COL_W) + GAP_X * (len(COL_W) + 1)
table = Column(children=[Spacer(width=total_w, height=0)] + row_models + [Spacer(width=total_w, height=0)],
               spacing=GAP_Y, styles={"background-color": GRID_COLOR}, margin=(21, 0, 0, 19))

open("out.html", "w").write(file_html(table, INLINE, "Well microelement table"))
